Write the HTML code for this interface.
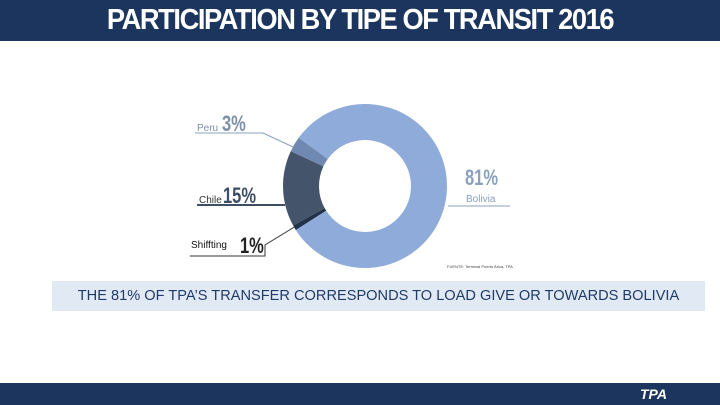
<!DOCTYPE html>
<html><head><meta charset="utf-8"><style>
body{margin:0;width:720px;height:405px;overflow:hidden;background:#fff;font-family:"Liberation Sans",sans-serif;position:relative}
.hdr{position:absolute;left:0;top:0;width:720px;height:41px;background:#1b355e}
.title{position:absolute;left:0;width:720px;top:4px;text-align:center;color:#fff;font-weight:bold;font-size:29px;letter-spacing:-1.5px;transform:scaleX(0.94);}
.band{position:absolute;left:52px;top:281px;width:653px;height:30px;background:#e1e9f4;color:#1f3b68;font-size:14.6px;text-align:center;line-height:30px;white-space:nowrap}
.foot{position:absolute;left:0;top:383px;width:720px;height:22px;background:#1b355e}
</style></head><body>
<div class="hdr"></div>
<div class="title">PARTICIPATION BY TIPE OF TRANSIT 2016</div>
<div class="band">THE 81% OF TPA’S TRANSFER CORRESPONDS TO LOAD GIVE OR TOWARDS BOLIVIA</div>
<div class="foot"></div>
<svg id="c" width="720" height="405" style="position:absolute;left:0;top:0;z-index:2">
<g id="slices"></g>
<g stroke-width="1">
<line x1="195" y1="133" x2="263" y2="133" stroke="#8aa0bd"/>
<line x1="263" y1="133" x2="293" y2="147" stroke="#8aa0bd"/>
<line x1="197" y1="205" x2="285" y2="205" stroke="#3d4f66" stroke-width="2"/>
<line x1="448" y1="206" x2="510" y2="206" stroke="#8aa0bd"/>
<polyline points="190,256 265,256 265,245 296,226" fill="none" stroke="#333"/>
</g>
<text x="197" y="131" font-size="10" fill="#7d8fa8" font-family="Liberation Sans">Peru</text>
<text x="222" y="131" font-size="22" font-weight="bold" fill="#7d8fa8" font-family="Liberation Sans" transform="translate(222,0) scale(0.75,1) translate(-222,0)">3%</text>
<text x="199" y="203" font-size="10" fill="#333" font-family="Liberation Sans">Chile</text>
<text x="223" y="203" font-size="22" font-weight="bold" fill="#3d4f66" font-family="Liberation Sans" transform="translate(223,0) scale(0.75,1) translate(-223,0)">15%</text>
<text x="191" y="248" font-size="10" fill="#111" font-family="Liberation Sans">Shiffting</text>
<text x="240" y="253" font-size="22" font-weight="bold" fill="#222" font-family="Liberation Sans" transform="translate(240,0) scale(0.75,1) translate(-240,0)">1%</text>
<text x="465" y="185" font-size="22" font-weight="bold" fill="#8aa0bd" font-family="Liberation Sans" transform="translate(465,0) scale(0.75,1) translate(-465,0)">81%</text>
<text x="466" y="202" font-size="10" fill="#8aa0bd" font-family="Liberation Sans">Bolivia</text>
<text x="447" y="268" font-size="4" fill="#444" font-family="Liberation Sans">FUENTE: Terminal Puerto Arica, TPA</text>
<text x="640" y="399" font-size="14" font-weight="bold" font-style="italic" fill="#fff" font-family="Liberation Sans">TPA</text>
</svg>
<script>
const categories=["Bolivia","Shiffting","Chile","Peru"];
const values=[81,1,15,3];
const colors=["#8eabd9","#23324a","#44546a","#6f89b3"];
const cx=365,cy=186,R=82,r=46,start=306;
const g=document.getElementById('slices');
const tot=values.reduce((a,b)=>a+b,0);
let a=start;
function pt(ang,rad){const t=(ang-90)*Math.PI/180;return [cx+rad*Math.cos(t),cy+rad*Math.sin(t)];}
values.forEach((v,i)=>{
 const sw=v/tot*360,b=a+sw,l=sw>180?1:0;
 const [x1,y1]=pt(a,R),[x2,y2]=pt(b,R),[x3,y3]=pt(b,r),[x4,y4]=pt(a,r);
 const p=document.createElementNS('http://www.w3.org/2000/svg','path');
 p.setAttribute('d',`M${x1},${y1}A${R},${R} 0 ${l} 1 ${x2},${y2}L${x3},${y3}A${r},${r} 0 ${l} 0 ${x4},${y4}Z`);
 p.setAttribute('fill',colors[i]);
 
 
 g.appendChild(p);a=b;
});
</script>
</body></html>
